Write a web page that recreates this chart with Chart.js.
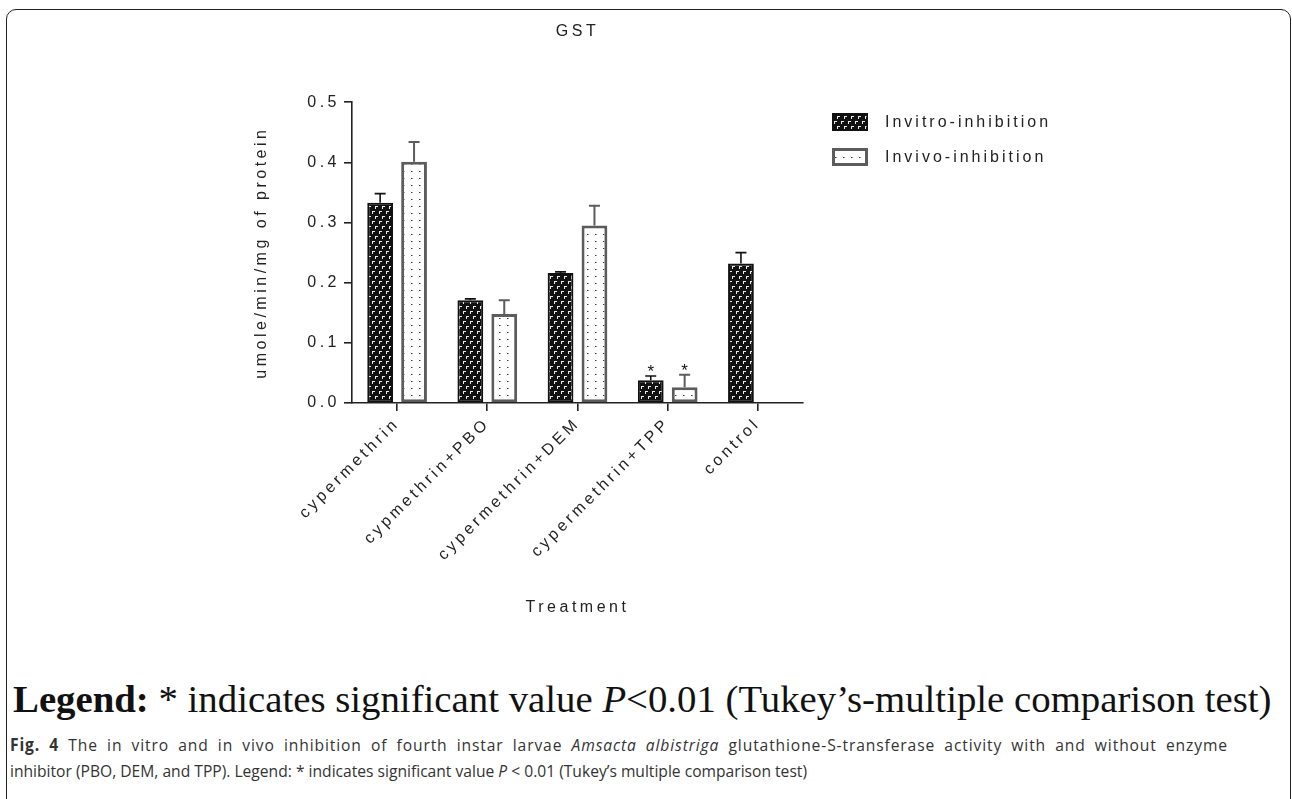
<!DOCTYPE html>
<html>
<head>
<meta charset="utf-8">
<script src="https://cdn.jsdelivr.net/npm/chart.js@4.4.1/dist/chart.umd.min.js"></script>
<style>
  html, body { margin: 0; padding: 0; background: #fff; width: 1292px; height: 799px; overflow: hidden; }
  #frame { position: absolute; left: 6px; top: 9px; width: 1285px; height: 830px; border: 1.6px solid #222;
           border-radius: 10px; box-sizing: border-box; }
  #wrap { position: absolute; left: 0; top: 0; width: 1292px; height: 660px; }
  #note { position: absolute; left: 13px; top: 683px; font-family: "Liberation Serif", "Times New Roman", serif;
          font-size: 34px; line-height: 34px; white-space: nowrap; color: #111; }
  .cap { position: absolute; left: 10px; font-family: "Open Sans", "Noto Sans", sans-serif; font-size: 17px;
         line-height: 20px; white-space: nowrap; color: #333; transform-origin: 0 0; }
  #cap1 { top: 735px; }
  #cap2 { top: 761px; }
</style>
</head>
<body>
<div id="frame"></div>
<div id="wrap"><canvas id="chart"></canvas></div>
<div id="note"><b>Legend:</b> * indicates significant value <i>P</i>&lt;0.01 (Tukey’s-multiple comparison test)</div>
<div class="cap" id="cap1"><b>Fig. 4</b> The in vitro and in vivo inhibition of fourth instar larvae <i>Amsacta albistriga</i> glutathione-S-transferase activity with and without enzyme</div>
<div class="cap" id="cap2">inhibitor (PBO, DEM, and TPP). Legend: * indicates significant value <i>P</i> &lt; 0.01 (Tukey’s multiple comparison test)</div>
<script>
// ---------------- data ----------------
const categories = ['cypermethrin', 'cypmethrin+PBO', 'cypermethrin+DEM', 'cypermethrin+TPP', 'control'];
const seriesNames = ['Invitro-inhibition', 'Invivo-inhibition'];
const invitro    = [0.333, 0.171, 0.216, 0.038, 0.232];
const invitroErr = [0.015, 0.002, 0.002, 0.007, 0.018];
const invivo     = [0.401, 0.148, 0.295, 0.026, null];
const invivoErr  = [0.033, 0.023, 0.033, 0.021, null];
const invitroSig = ['', '', '', '*', ''];
const invivoSig  = ['', '', '', '*', ''];
const yMin = 0, yMax = 0.5, yStep = 0.1;
const chartTitle = 'GST';
const yTitle = 'umole/min/mg of protein';
const xTitle = 'Treatment';

// ---------------- styles ----------------
const FONT = '"Liberation Sans", Arial, sans-serif';
const FS = 16;
const LS = '3.5px';
const INK = '#222';

function darkPattern() {
  const c = document.createElement('canvas');
  c.width = 7; c.height = 10;
  const g = c.getContext('2d');
  g.fillStyle = '#111'; g.fillRect(0, 0, 7, 10);
  g.fillStyle = '#ececec';
  g.fillRect(1, 1, 3, 1); g.fillRect(1, 2, 1, 2);
  g.fillRect(4, 6, 3, 1); g.fillRect(4, 7, 1, 2);
  return g.createPattern(c, 'repeat');
}
function dotPattern() {
  const c = document.createElement('canvas');
  c.width = 8; c.height = 7;
  const g = c.getContext('2d');
  g.fillStyle = '#fff'; g.fillRect(0, 0, 8, 7);
  g.fillStyle = '#3a3a3a'; g.fillRect(3, 3, 1, 1);
  g.fillStyle = '#9a9a9a'; g.fillRect(4, 3, 1, 1);
  return g.createPattern(c, 'repeat');
}

const spacingPlugin = {
  id: 'spacing',
  beforeUpdate(chart) { chart.ctx.letterSpacing = LS; },
  beforeLayout(chart) { chart.ctx.letterSpacing = LS; },
  beforeDraw(chart) { chart.ctx.letterSpacing = LS; }
};

const titleCenterPlugin = {
  id: 'titleCenter',
  afterLayout(chart) {
    const t = chart.titleBlock;
    if (t) { t.left = chart.chartArea.left; t.right = chart.chartArea.right; t.width = t.right - t.left; }
  }
};

const errorBarPlugin = {
  id: 'errorBars',
  afterDatasetsDraw(chart) {
    const ctx = chart.ctx, y = chart.scales.y;
    ctx.save();
    ctx.letterSpacing = '0px';
    chart.data.datasets.forEach((ds, di) => {
      const meta = chart.getDatasetMeta(di);
      meta.data.forEach((bar, i) => {
        const v = ds.data[i], e = ds.errors[i];
        if (v == null || e == null) return;
        const y0 = y.getPixelForValue(v), y1 = y.getPixelForValue(v + e);
        ctx.strokeStyle = ds.errorColor;
        ctx.lineWidth = ds.errorWidth;
        ctx.beginPath();
        ctx.moveTo(bar.x, y0); ctx.lineTo(bar.x, y1);
        ctx.moveTo(bar.x - 5.5, y1); ctx.lineTo(bar.x + 5.5, y1);
        ctx.stroke();
        if (ds.sig[i]) {
          ctx.fillStyle = '#111';
          ctx.font = '17px ' + FONT;
          ctx.textAlign = 'center';
          ctx.textBaseline = 'alphabetic';
          ctx.fillText(ds.sig[i], bar.x, y1 + 1);
        }
      });
    });
    ctx.restore();
  }
};

const legendPlugin = {
  id: 'sideLegend',
  afterDraw(chart) {
    const ctx = chart.ctx;
    ctx.save();
    ctx.letterSpacing = '3px';
    chart.data.datasets.forEach((ds, i) => {
      const bx = 832, by = 113 + i * 35, bw = 36, bh = 18;
      ctx.fillStyle = ds.backgroundColor;
      ctx.fillRect(bx, by, bw, bh);
      const lw = ds.legendBorder;
      ctx.lineWidth = lw;
      ctx.strokeStyle = ds.borderColor;
      ctx.strokeRect(bx + lw / 2, by + lw / 2, bw - lw, bh - lw);
      ctx.fillStyle = INK;
      ctx.font = FS + 'px ' + FONT;
      ctx.textAlign = 'left';
      ctx.textBaseline = 'middle';
      ctx.fillText(ds.label, 885, by + bh / 2 + 1);
    });
    ctx.restore();
  }
};

Chart.defaults.font.family = FONT;
Chart.defaults.font.size = FS;
Chart.defaults.color = INK;

new Chart(document.getElementById('chart'), {
  type: 'bar',
  data: {
    labels: categories,
    datasets: [
      {
        label: seriesNames[0], data: invitro, errors: invitroErr, sig: invitroSig,
        backgroundColor: darkPattern(), borderColor: '#111', borderWidth: 2, borderSkipped: false,
        errorColor: '#111', errorWidth: 1.6, legendBorder: 1.5,
        categoryPercentage: 0.752, barPercentage: 0.76
      },
      {
        label: seriesNames[1], data: invivo, errors: invivoErr, sig: invivoSig,
        backgroundColor: dotPattern(), borderColor: '#5c5c5c', borderWidth: 3, borderSkipped: false,
        errorColor: '#5c5c5c', errorWidth: 2, legendBorder: 3,
        categoryPercentage: 0.752, barPercentage: 0.76
      }
    ]
  },
  options: {
    responsive: true,
    maintainAspectRatio: false,
    animation: false,
    devicePixelRatio: 1,
    layout: { padding: { left: 240, right: 489, top: 10, bottom: 43 } },
    plugins: {
      legend: { display: false },
      tooltip: { enabled: false },
      title: {
        display: true, text: chartTitle, color: INK,
        font: { size: FS, weight: 'normal', family: FONT },
        padding: { top: 12, bottom: 61 }
      }
    },
    scales: {
      x: {
        offset: true,
        grid: { offset: false, drawOnChartArea: false, drawTicks: true, tickLength: 8, color: INK, lineWidth: 1.6 },
        border: { display: true, color: INK, width: 1.6 },
        ticks: { minRotation: 45, maxRotation: 45, autoSkip: false, padding: 3, color: INK, font: { size: FS } },
        title: { display: true, text: xTitle, color: INK, font: { size: FS }, padding: { top: 0, bottom: 0 } },
        afterFit(scale) { scale.height = 214; }
      },
      y: {
        min: yMin, max: yMax,
        grid: { drawOnChartArea: false, drawTicks: true, tickLength: 8, color: INK, lineWidth: 1.6 },
        border: { display: true, color: INK, width: 1.6 },
        ticks: { stepSize: yStep, padding: 4, color: INK, font: { size: FS },
                 callback: v => Number(v).toFixed(1) },
        title: { display: true, text: yTitle, color: INK, font: { size: FS }, padding: { top: 12, bottom: 0 } },
        afterFit(scale) { scale.width = 112; }
      }
    }
  },
  plugins: [spacingPlugin, titleCenterPlugin, errorBarPlugin, legendPlugin]
});

// fit bottom texts to reference widths (line 1 justified by spacing, line 2 natural)
(function () {
  const note = document.getElementById('note');
  const w = note.getBoundingClientRect().width;
  const fs = 34 * 1259 / w;
  note.style.fontSize = fs.toFixed(2) + 'px';
  note.style.lineHeight = fs.toFixed(2) + 'px';
  note.style.top = (712 - 0.8375 * fs).toFixed(1) + 'px';
  const c1 = document.getElementById('cap1'), c2 = document.getElementById('cap2');
  const s = 797 / c2.getBoundingClientRect().width;
  const target = 1218 / s;
  const n = c1.textContent.length;
  const spaces = (c1.textContent.match(/ /g) || []).length;
  let extra = target - c1.getBoundingClientRect().width;
  // share the justification between letters and words
  c1.style.letterSpacing = (0.6 * extra / n).toFixed(3) + 'px';
  c1.style.wordSpacing = (0.4 * extra / spaces).toFixed(3) + 'px';
  extra = target - c1.getBoundingClientRect().width;
  c1.style.wordSpacing = (0.4 * (target - c1.getBoundingClientRect().width + 0) / spaces + parseFloat(c1.style.wordSpacing)).toFixed(3) + 'px';
  c1.style.transform = 'scaleX(' + s + ')';
  c2.style.transform = 'scaleX(' + s + ')';
})();
</script>
</body>
</html>
